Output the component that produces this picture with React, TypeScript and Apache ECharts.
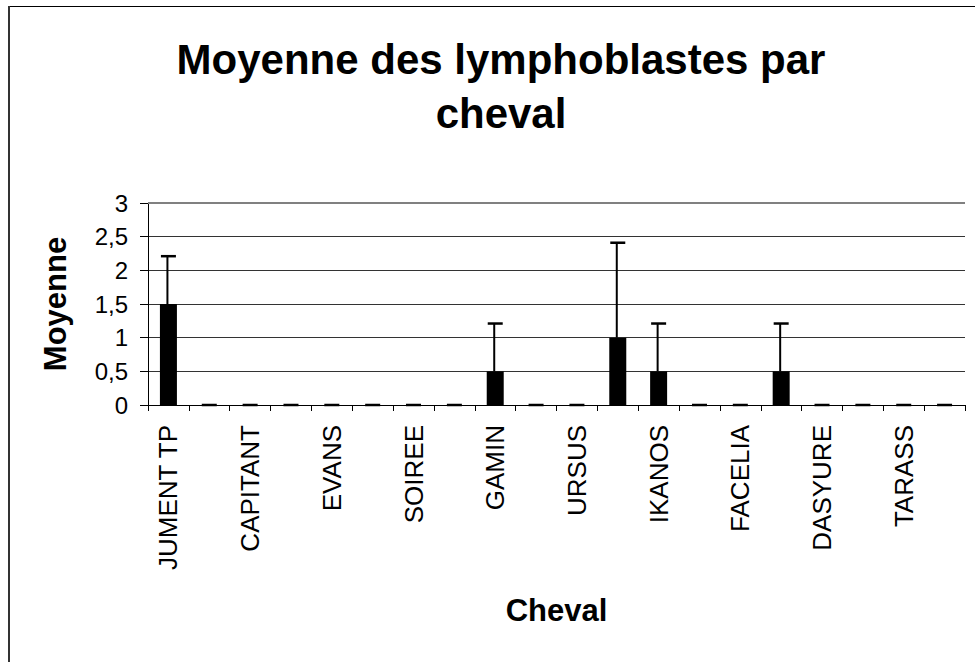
import React, { useEffect, useRef } from "react";
import * as echarts from "echarts";

const categories: string[] = [
  "JUMENT TP", "", "CAPITANT", "", "EVANS", "", "SOIREE", "", "GAMIN", "",
  "URSUS", "", "IKANOS", "", "FACELIA", "", "DASYURE", "", "TARASS", "",
];
const means: number[] = [1.5, 0, 0, 0, 0, 0, 0, 0, 0.5, 0, 0, 1.0, 0.5, 0, 0, 0.5, 0, 0, 0, 0];
const errors: number[] = [0.71, 0, 0, 0, 0, 0, 0, 0, 0.71, 0, 0, 1.41, 0.71, 0, 0, 0.71, 0, 0, 0, 0];
const yTicks = { min: 0, max: 3, interval: 0.5 };

const titleText = "Moyenne des lymphoblastes par\ncheval";
const xName = "Cheval";
const yName = "Moyenne";

const FONT = "'Liberation Sans', Arial, sans-serif";

export default function App() {
  const ref = useRef<HTMLDivElement>(null);
  useEffect(() => {
    document.body.style.margin = "0";
    const chart = echarts.init(ref.current!, null, { renderer: "svg" });
    const errData = means.map((m, i) => [i, m, errors[i]]);
    chart.setOption({
      animation: false,
      backgroundColor: "#ffffff",
      textStyle: { fontFamily: FONT, color: "#000" },
      title: {
        text: titleText,
        left: 496,
        top: 27,
        textAlign: "center",
        textStyle: { fontFamily: FONT, fontWeight: "bold", fontSize: 42, lineHeight: 54, color: "#000" },
      },
      grid: { left: 148, right: 10, top: 203, bottom: 257, containLabel: false },
      xAxis: {
        type: "category",
        data: categories,
        name: xName,
        nameLocation: "middle",
        nameGap: 190,
        nameTextStyle: { fontFamily: FONT, fontWeight: "bold", fontSize: 31, color: "#000" },
        axisLine: { lineStyle: { color: "#000", width: 1 } },
        axisTick: { show: true, interval: 0, length: 6, lineStyle: { color: "#000" } },
        axisLabel: {
          interval: 1,
          rotate: 90,
          margin: 20,
          fontFamily: FONT,
          fontSize: 26,
          color: "#000",
        },
        splitLine: { show: false },
      },
      yAxis: {
        type: "value",
        min: yTicks.min,
        max: yTicks.max,
        interval: yTicks.interval,
        name: yName,
        nameLocation: "middle",
        nameGap: 77,
        nameRotate: 90,
        nameTextStyle: { fontFamily: FONT, fontWeight: "bold", fontSize: 31, color: "#000" },
        axisLine: { show: true, lineStyle: { color: "#000", width: 1 } },
        axisTick: { show: true, length: 8, lineStyle: { color: "#000" } },
        axisLabel: {
          margin: 20,
          fontFamily: FONT,
          fontSize: 24,
          color: "#000",
          formatter: (v: number) => String(v).replace(".", ","),
        },
        splitLine: { show: true, lineStyle: { color: "#333", width: 1 } },
      },
      series: [
        {
          type: "bar",
          data: means,
          barWidth: 17,
          itemStyle: { color: "#000" },
          markLine: {
            silent: true,
            symbol: "none",
            label: { show: false },
            lineStyle: { color: "#808080", width: 2, type: "solid" },
            data: [{ yAxis: 3 }],
          },
        },
        {
          type: "custom",
          data: errData,
          z: 5,
          renderItem: (params: any, api: any) => {
            const x = api.value(0);
            const v = api.value(1);
            const e = api.value(2);
            const base = api.coord([x, v]);
            const top = api.coord([x, v + e]);
            const half = 7.5;
            return {
              type: "group",
              children: [
                {
                  type: "line",
                  shape: { x1: top[0] - 1, y1: top[1], x2: base[0] - 1, y2: base[1] },
                  style: { stroke: "#000", lineWidth: 2 },
                },
                {
                  type: "line",
                  shape: { x1: top[0] - half, y1: top[1], x2: top[0] + half, y2: top[1] },
                  style: { stroke: "#000", lineWidth: 2.5 },
                },
              ],
            };
          },
        },
      ],
      graphic: [
        { type: "line", shape: { x1: 8, y1: 6.5, x2: 975, y2: 6.5 }, style: { stroke: "#000", lineWidth: 1 } },
        { type: "line", shape: { x1: 9, y1: 6, x2: 9, y2: 662 }, style: { stroke: "#333", lineWidth: 2 } },
      ],
    });
    return () => chart.dispose();
  }, []);
  return <div ref={ref} style={{ width: 975, height: 662 }} />;
}
